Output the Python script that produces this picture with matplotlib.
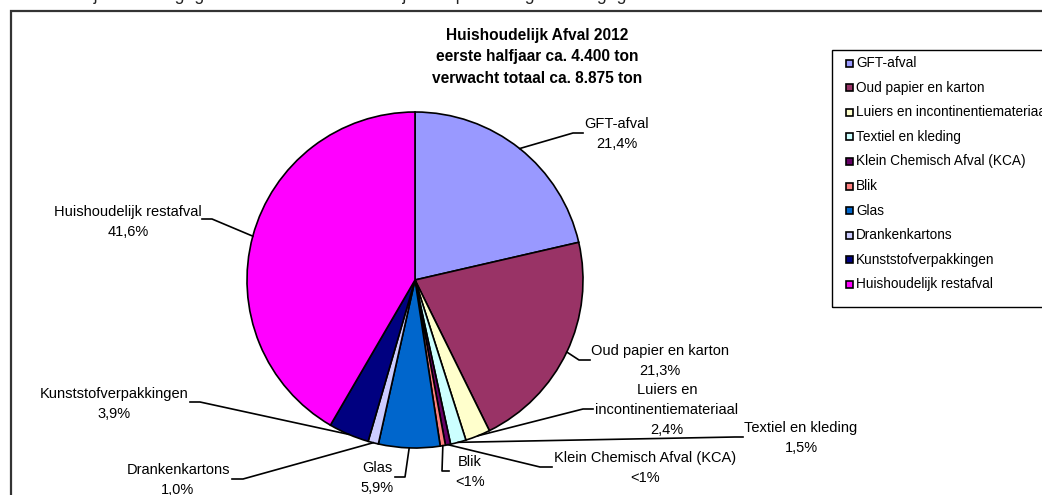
# Huishoudelijk afval 2012 - pie chart with leader lines

import numpy as np
import matplotlib.pyplot as plt

plt.rcParams['font.family'] = ['Liberation Sans', 'DejaVu Sans']

# data
categories = ['GFT-afval', 'Oud papier en karton', 'Luiers en incontinentiemateriaal',
              'Textiel en kleding', 'Klein Chemisch Afval (KCA)', 'Blik', 'Glas',
              'Drankenkartons', 'Kunststofverpakkingen', 'Huishoudelijk restafval']
shares = [21.4, 21.3, 2.4, 1.5, 0.5, 0.5, 5.9, 1.0, 3.9, 41.6]
share_labels = ['21,4%', '21,3%', '2,4%', '1,5%', '<1%', '<1%', '5,9%', '1,0%', '3,9%', '41,6%']
label_names = ['GFT-afval', 'Oud papier en karton', 'Luiers en\nincontinentiemateriaal',
               'Textiel en kleding', 'Klein Chemisch Afval (KCA)', 'Blik', 'Glas',
               'Drankenkartons', 'Kunststofverpakkingen', 'Huishoudelijk restafval']
colors = ['#9999FF', '#993366', '#FFFFCC', '#CCFFFF', '#660066',
          '#FF8080', '#0066CC', '#CCCCFF', '#000080', '#FF00FF']

title = 'Huishoudelijk Afval 2012\neerste halfjaar ca. 4.400 ton\nverwacht totaal ca. 8.875 ton'

# layout (pixel coords, y from top): elbow point, line end, text centre
W, H = 1042, 495
elbows = [(573, 133), (579, 360), (583, 409), (735, 437), (540, 467),
          (442, 471), (405, 477), (243, 479), (200, 402), (212, 219)]
ends = [(583, 133), (590, 360), (593, 409), (743, 437), (552, 467),
        (449, 471), (395, 477), (232, 479), (190, 402), (202, 219)]
text_pos = [(617, 134), (660, 361), (667, 410), (801, 438), (645, 468),
            (470, 472), (377, 478), (178, 480), (114, 404), (128, 222)]

cx, cy, r = 415, 280, 168

fig = plt.figure(figsize=(W / 100, H / 100), dpi=100)
ax = fig.add_axes([0, 0, 1, 1])

wedges, _ = ax.pie(shares, colors=colors, startangle=90, counterclock=False,
                   center=(cx, H - cy), radius=r,
                   wedgeprops=dict(edgecolor='black', linewidth=1.2))
ax.set_xlim(0, W)
ax.set_ylim(0, H)
ax.axis('off')

# labels with leader lines
for w, name, pct, el, en, tp in zip(wedges, label_names, share_labels, elbows, ends, text_pos):
    mid = np.deg2rad((w.theta1 + w.theta2) / 2)
    x0 = cx + r * np.cos(mid)
    y0 = (H - cy) + r * np.sin(mid)
    ax.plot([x0, el[0], en[0]], [y0, H - el[1], H - en[1]], color='black', lw=1.2)
    ax.text(tp[0], H - tp[1], name + '\n' + pct, ha='center', va='center',
            fontsize=10.5, linespacing=1.5, color='black')

ax.text(537, H - 57, title, ha='center', va='center', fontsize=11.2,
        fontweight='bold', linespacing=1.58)

# chart border
ax.add_patch(plt.Rectangle((11, -10), W, H - 11 + 10, fill=False,
                           edgecolor='#333333', lw=1.6, clip_on=False))

# partly visible text above the chart (cut off in the original too)
ax.text(-2, H - 0.5, 'Hieronder zijn de afvalgegevens van het eerste halfjaar in percentages weergegeven',
        fontsize=12.8, va='baseline', ha='left', color='#222222')

# legend box, running off the right edge like the original
ax.add_patch(plt.Rectangle((832, H - 307), 240, 257, fill=False,
                           edgecolor='black', lw=1.0, clip_on=False))
for i, (name, c) in enumerate(zip(categories, colors)):
    yy = H - (63 + i * 24.6)
    ax.add_patch(plt.Rectangle((846, yy - 3.5), 7, 7, facecolor=c,
                               edgecolor='black', lw=1.2))
    ax.text(856, yy, name, fontsize=9.8, va='center', ha='left')

plt.savefig('out.png', dpi=100)
